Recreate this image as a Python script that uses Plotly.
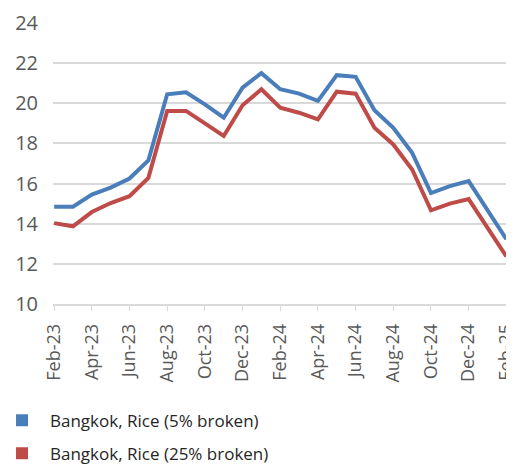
import plotly.graph_objects as go

months = [
    "Feb-23", "Mar-23", "Apr-23", "May-23", "Jun-23", "Jul-23", "Aug-23",
    "Sep-23", "Oct-23", "Nov-23", "Dec-23", "Jan-24", "Feb-24", "Mar-24",
    "Apr-24", "May-24", "Jun-24", "Jul-24", "Aug-24", "Sep-24", "Oct-24",
    "Nov-24", "Dec-24", "Jan-25", "Feb-25",
]

rice_5 = [
    14.85, 14.85, 15.45, 15.8, 16.25, 17.15, 20.45,
    20.55, 19.95, 19.28, 20.78, 21.5, 20.7, 20.48,
    20.12, 21.4, 21.32, 19.65, 18.78, 17.53, 15.53,
    15.87, 16.12, 14.7, 13.23,
]

rice_25 = [
    14.03, 13.87, 14.58, 15.03, 15.37, 16.28, 19.62,
    19.62, 19.0, 18.37, 19.9, 20.7, 19.78, 19.53,
    19.2, 20.58, 20.48, 18.78, 17.95, 16.7, 14.67,
    15.0, 15.23, 13.78, 12.37,
]

tick_labels = months[::2]

names = ["Bangkok, Rice (5% broken)", "Bangkok, Rice (25% broken)"]
colors = ["#4A7EBB", "#BE4B48"]

fig = go.Figure()

for i, (name, values, color) in enumerate(zip(names, [rice_5, rice_25], colors)):
    fig.add_trace(
        go.Scatter(
            x=months,
            y=values,
            mode="lines",
            line=dict(color=color, width=4),
            showlegend=False,
        )
    )
    # square swatch for the legend
    fig.add_trace(
        go.Scatter(
            x=[None],
            y=[None],
            mode="markers",
            marker=dict(symbol="square", size=12, color=color),
            name=name,
            legendgroup=f"g{i}",
        )
    )

# the page body shifts the figure by 8px, margins are set to make up for it
fig.update_layout(
    width=514,
    height=464,
    margin=dict(l=45, r=10, t=15, b=168, autoexpand=False),
    paper_bgcolor="white",
    plot_bgcolor="white",
    font=dict(family="Open Sans", color="#595959"),
    showlegend=True,
    legend=dict(
        x=-0.1285,
        y=-0.351,
        xanchor="left",
        yanchor="top",
        font=dict(size=17, color="#262626"),
        tracegroupgap=8,
        itemwidth=46,
        bgcolor="rgba(0,0,0,0)",
    ),
)

fig.update_xaxes(
    type="category",
    range=[-0.06, 24.3],
    tickmode="array",
    tickvals=tick_labels,
    ticktext=tick_labels,
    tickangle=-90,
    tickfont=dict(size=18),
    ticks="outside",
    ticklen=5,
    tickcolor="#d9d9d9",
    ticklabelstandoff=6,
    ticklabeloverflow="allow",
    showline=True,
    linecolor="#d9d9d9",
    linewidth=1.5,
    showgrid=False,
    automargin=False,
)

fig.update_yaxes(
    range=[10, 24],
    dtick=2,
    tickfont=dict(size=20),
    showgrid=True,
    gridcolor="#d9d9d9",
    gridwidth=1.5,
    zeroline=False,
    ticks="",
    ticklabelstandoff=14,
    automargin=False,
)

fig.write_html("out.html")
